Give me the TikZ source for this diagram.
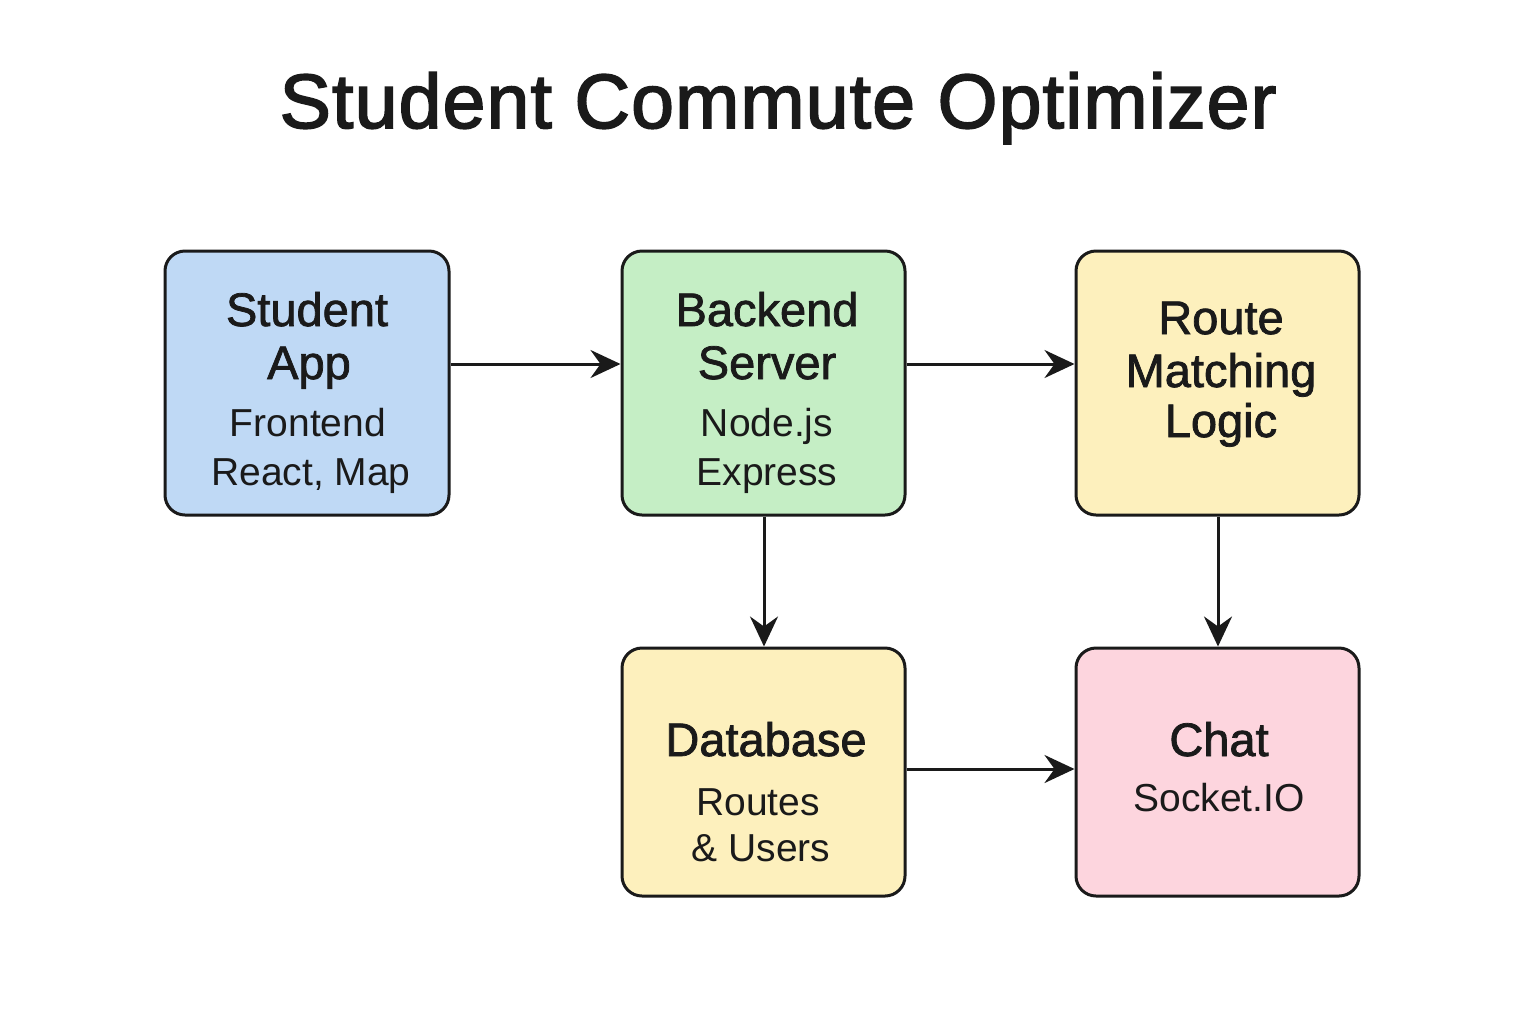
\documentclass[tikz,border=0pt]{standalone}
\usepackage{fontspec}
\setmainfont{Liberation Sans}
\newfontfamily\semib[FakeBold=1.6]{Liberation Sans}
\newfontfamily\titlef[FakeBold=2.2,LetterSpace=1.5]{Liberation Sans}
\usetikzlibrary{arrows.meta}
\definecolor{ink}{HTML}{1A1A1A}
\definecolor{cblue}{HTML}{BFD9F5}
\definecolor{cgreen}{HTML}{C5EEC5}
\definecolor{cyellow}{HTML}{FDF0BD}
\definecolor{cpink}{HTML}{FDD5DE}
\begin{document}
\begin{tikzpicture}[x=0.5pt,y=-0.5pt,
  box/.style={draw=ink,line width=1.5pt,rounded corners=10pt,inner sep=0pt},
  head/.style={anchor=base,text=ink,font=\semib\fontsize{23.5}{28}\selectfont},
  sub/.style={anchor=base,text=ink,font=\fontsize{19.5}{24}\selectfont},
  conn/.style={draw=ink,line width=1.5pt,-{Stealth[length=15pt,width=14pt,inset=5pt]}}]
\useasboundingbox[fill=white] (0,0) rectangle (1536,1024);
\node[anchor=base,text=ink,font=\titlef\fontsize{38.5}{44}\selectfont] (title) at (778,128) {Student Commute Optimizer};
% boxes
\node[box,fill=cblue,minimum width=142pt,minimum height=132pt] (app) at (307,383) {};
\node[box,fill=cgreen,minimum width=141.5pt,minimum height=132pt] (back) at (763.5,383) {};
\node[box,fill=cyellow,minimum width=141.5pt,minimum height=132pt] (route) at (1217.5,383) {};
\node[box,fill=cyellow,minimum width=141.5pt,minimum height=124pt] (db) at (763.5,772) {};
\node[box,fill=cpink,minimum width=141.5pt,minimum height=124pt] (chat) at (1217.5,772) {};
% texts
\node[head] (t1) at (307,326) {Student};
\node[head] (t2) at (309,379) {App};
\node[sub] (t3) at (308,436) {Frontend};
\node[sub] (t4) at (311,485) {React, Map};
\node[head] (t5) at (767,326) {Backend};
\node[head] (t6) at (767,379) {Server};
\node[sub] (t7) at (767,436) {Node.js};
\node[sub] (t8) at (767,485) {Express};
\node[head] (t9) at (1221,334) {Route};
\node[head] (t10) at (1221,387) {Matching};
\node[head] (t11) at (1221,437) {Logic};
\node[head] (t12) at (766,756) {Database};
\node[sub] (t13) at (758,815) {Routes};
\node[sub] (t14) at (761,861) {\& Users};
\node[head] (t15) at (1219,756) {Chat};
\node[sub] (t16) at (1219,811) {Socket.IO};
% connectors
\draw[conn] (app.east |- 0,364) -- (back.west |- 0,364);
\draw[conn] (back.east |- 0,364) -- (route.west |- 0,364);
\draw[conn] (back.south -| 764,0) -- (db.north -| 764,0);
\draw[conn] (route.south -| 1218,0) -- (chat.north -| 1218,0);
\draw[conn] (db.east |- 0,769) -- (chat.west |- 0,769);
\end{tikzpicture}
\end{document}
